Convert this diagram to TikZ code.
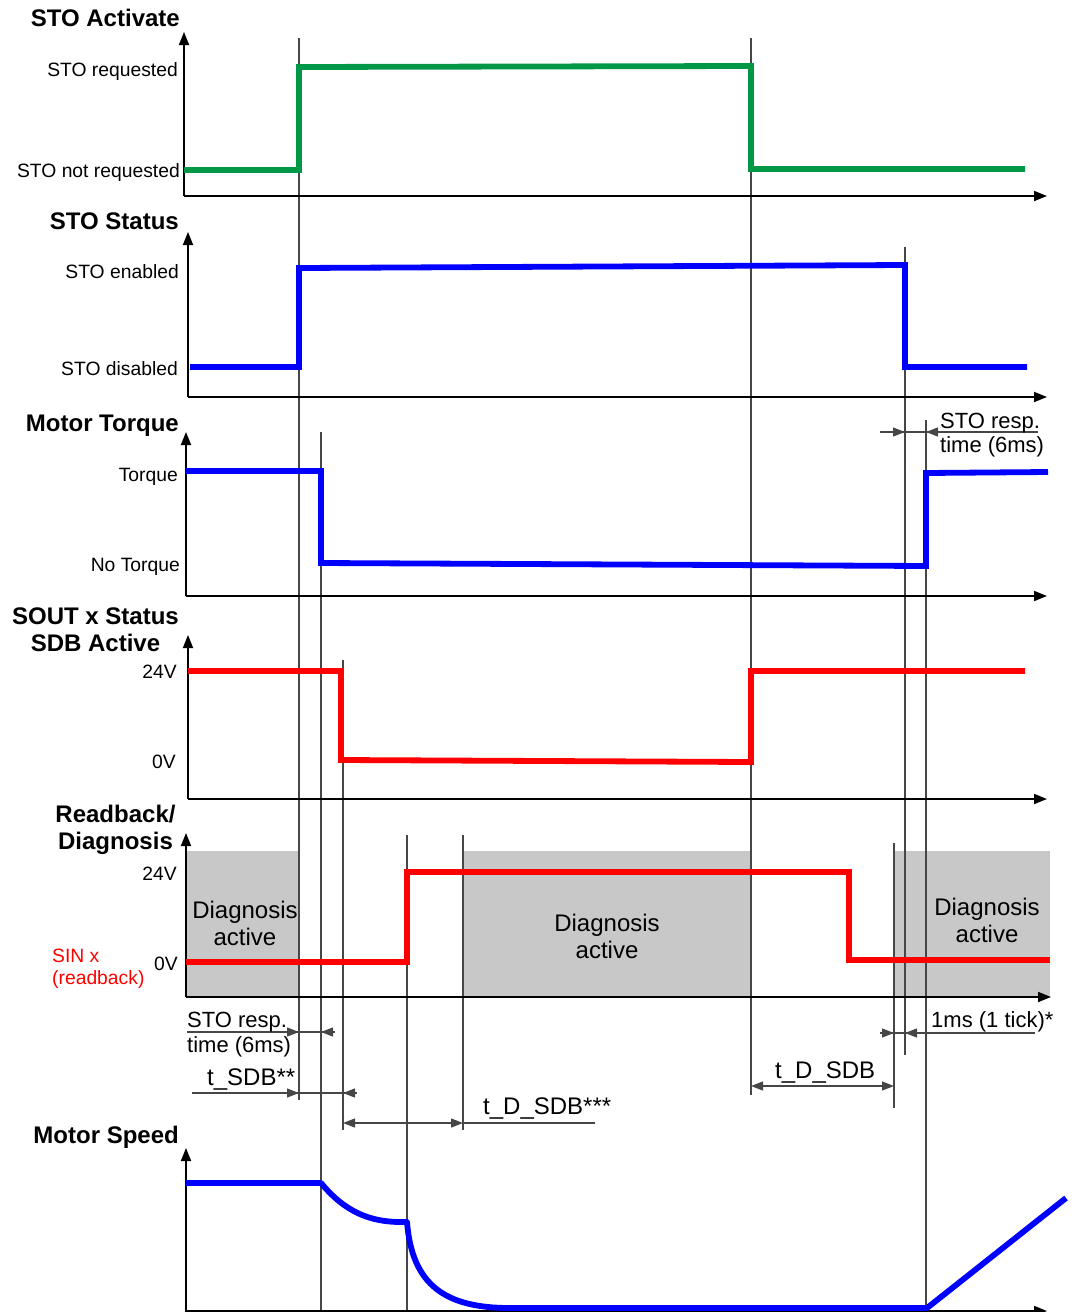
\documentclass[tikz,border=0pt]{standalone}
\usepackage{fontspec}
\setmainfont{Liberation Sans}
\usetikzlibrary{arrows.meta}
\definecolor{sgreen}{RGB}{0,152,70}
\definecolor{sblue}{RGB}{0,0,255}
\definecolor{sred}{RGB}{255,0,0}
\definecolor{dgray}{RGB}{200,200,200}
\definecolor{vline}{RGB}{70,70,70}
\begin{document}
\begin{tikzpicture}[x=1pt,y=-1pt,
  axis/.style={line width=1.8pt, -{Triangle[length=13pt,width=10pt]}},
  vl/.style={vline, line width=1.2pt},
  sig/.style={line width=5.8pt, line join=miter},
  lab/.style={font=\fontsize{19.3}{22}\selectfont, inner sep=0pt, anchor=base east},
  ttl/.style={font=\fontsize{24}{28}\selectfont\bfseries, inner sep=0pt, anchor=base east},
  dimlab/.style={font=\fontsize{22}{25}\selectfont, inner sep=0pt, anchor=base west},
  tlab/.style={font=\fontsize{24}{27}\selectfont, inner sep=0pt, anchor=base west},
  diag/.style={font=\fontsize{24}{27}\selectfont, align=center, inner sep=0pt},
  dimline/.style={vline, line width=1.2pt},
  tipr/.style={vline, line width=1.2pt, -{Triangle[length=12pt,width=9pt]}},
  tipb/.style={vline, line width=1.2pt, {Triangle[length=12pt,width=9pt]}-{Triangle[length=12pt,width=9pt]}},
]
\useasboundingbox (0,0) rectangle (1075,1312);

% gray diagnosis boxes
\fill[dgray] (186,851) rectangle (299,997);
\fill[dgray] (463,851) rectangle (751,997);
\fill[dgray] (894,851) rectangle (1050,997);

% vertical time markers
\draw[vl] (299,38) -- (299,1100);
\draw[vl] (321,432) -- (321,1312);
\draw[vl] (343,660) -- (343,1130);
\draw[vl] (407,835) -- (407,1312);
\draw[vl] (463,835) -- (463,1130);
\draw[vl] (751,38) -- (751,1095);
\draw[vl] (894,843) -- (894,1108);
\draw[vl] (905,247) -- (905,1055);
\draw[vl] (926,420) -- (926,1312);

% axes
\draw[axis] (184,196) -- (184,32);
\draw[axis] (184,196) -- (1047,196);
\draw[axis] (188,397) -- (188,232);
\draw[axis] (188,397) -- (1047,397);
\draw[axis] (186,596) -- (186,432);
\draw[axis] (186,596) -- (1047,596);
\draw[axis] (188,799) -- (188,635);
\draw[axis] (188,799) -- (1047,799);
\draw[axis] (186,997) -- (186,833);
\draw[axis] (186,997) -- (1051,997);
\draw[axis] (186,1320) -- (186,1148);
\draw[axis] (186,1311) -- (1047,1311);

% signals
\draw[sig, sgreen] (184,170) -- (299,170) -- (299,67) -- (751,66) -- (751,169) -- (1025,169);
\draw[sig, sblue] (190,367) -- (299,367) -- (299,268) -- (905,265) -- (905,367) -- (1027,367);
\draw[sig, sblue] (186,471) -- (321,471) -- (321,563) -- (926,566) -- (926,473) -- (1048,472);
\draw[sig, sred] (188,671) -- (341,671) -- (341,760) -- (751,762) -- (751,671) -- (1025,671);
\draw[sig, sred] (186,962) -- (407,962) -- (407,872) -- (849,872) -- (849,960) -- (1050,960);
\draw[sig, sblue, line join=round] (186,1183) -- (321,1183)
   .. controls (345,1212) and (370,1222) .. (401,1222) -- (407,1222)
   .. controls (412,1285) and (445,1308) .. (510,1308) -- (927,1308) -- (1066,1198);

% labels
\node[ttl] (tact) at (180,26) {STO Activate};
\node[lab] (lreq) at (178,76) {STO requested};
\node[lab] (lnreq) at (180,177) {STO not requested};
\node[ttl] (tstat) at (179,229) {STO Status};
\node[lab] (len) at (179,278) {STO enabled};
\node[lab] (ldis) at (178,375) {STO disabled};
\node[ttl] (ttor) at (179,431) {Motor Torque};
\node[lab] (ltq) at (178,481) {Torque};
\node[lab] (lntq) at (180,571) {No Torque};
\node[ttl, anchor=base] (tsout) at (95.5,624) {SOUT x Status};
\node[ttl, anchor=base] (tsdb) at (95.5,651) {SDB Active};
\node[lab] (l24a) at (177,678) {24V};
\node[lab] (l0a) at (176,768) {0V};
\node[ttl, anchor=base] (trb) at (115.5,822) {Readback/};
\node[ttl, anchor=base] (tdiag) at (115.5,849) {Diagnosis};
\node[lab] (l24b) at (177,880) {24V};
\node[lab] (l0b) at (178,970) {0V};
\node[lab, anchor=base west, sred] (lsin) at (52,962) {SIN x};
\node[lab, anchor=base west, sred] (lrb) at (52,984) {(readback)};
\node[ttl] (tspd) at (179,1143) {Motor Speed};

\node[diag] (d1) at (245,923) {Diagnosis\\active};
\node[diag] (d2) at (607,936) {Diagnosis\\active};
\node[diag] (d3) at (987,920) {Diagnosis\\active};

% dimension: STO resp. top right
\draw[dimline] (880,432) -- (1038,432);
\draw[tipr] (880,432) -- (905,432);
\draw[tipr] (945,432) -- (926,432);
\node[dimlab] (sr1) at (940,428) {STO resp.};
\node[dimlab] (sr2) at (940,452) {time (6ms)};

% dimension: STO resp. bottom left
\draw[dimline] (187,1032) -- (335,1032);
\draw[tipr] (270,1032) -- (299,1032);
\draw[tipr] (335,1032) -- (321,1032);
\node[dimlab] (sr3) at (187,1027) {STO resp.};
\node[dimlab] (sr4) at (187,1052) {time (6ms)};

% t_SDB
\draw[dimline] (192,1093) -- (357,1093);
\draw[tipr] (270,1093) -- (299,1093);
\draw[tipr] (357,1093) -- (343,1093);
\node[tlab] (tsdbl) at (207,1085) {t\_SDB**};

% t_D_SDB***
\draw[tipb] (343,1123) -- (463,1123);
\draw[dimline] (463,1123) -- (595,1123);
\node[tlab] (tdsdb3) at (483,1114) {t\_D\_SDB***};

% t_D_SDB
\draw[tipb] (751,1086) -- (894,1086);
\node[tlab] (tdsdb) at (775,1078) {t\_D\_SDB};

% 1ms
\draw[dimline] (880,1033) -- (1035,1033);
\draw[tipr] (880,1033) -- (894,1033);
\draw[tipr] (925,1033) -- (905,1033);
\node[dimlab] (onems) at (931,1027) {1ms (1 tick)*};
\end{tikzpicture}
\end{document}
